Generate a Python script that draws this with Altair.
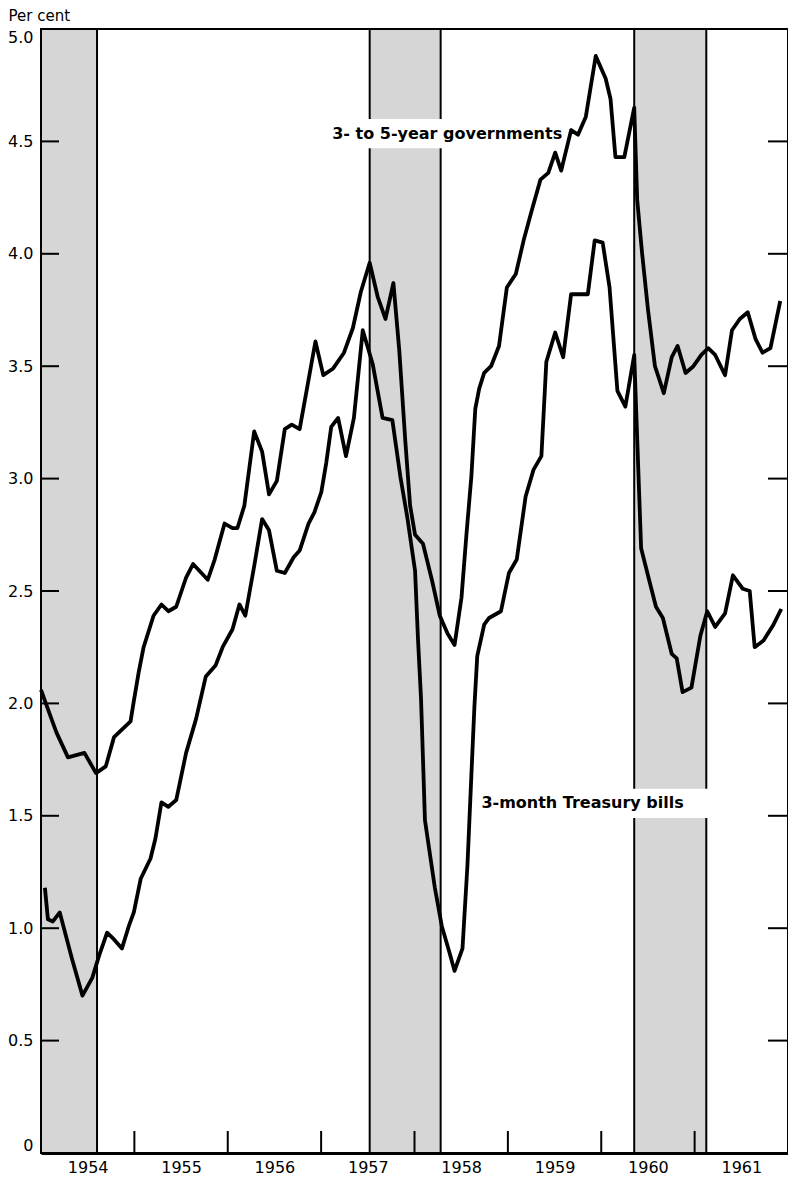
import altair as alt
import pandas as pd

# ---- data (decimal year, per cent) ----
gov_t = [1954.00, 1954.113, 1954.166, 1954.289, 1954.465, 1954.589, 1954.694, 1954.782, 1954.959, 1954.994,
         1955.047, 1955.099, 1955.205, 1955.290, 1955.364, 1955.448, 1955.554, 1955.628, 1955.786, 1955.860,
         1955.966, 1956.051, 1956.104, 1956.178, 1956.283, 1956.368, 1956.442, 1956.526, 1956.611, 1956.685,
         1956.770, 1956.844, 1956.939, 1957.023, 1957.129, 1957.245, 1957.340, 1957.425, 1957.520, 1957.605,
         1957.689, 1957.774, 1957.837, 1957.901, 1957.953, 1958.006, 1958.091, 1958.186, 1958.271, 1958.355,
         1958.429, 1958.503, 1958.556, 1958.609, 1958.651, 1958.693, 1958.746, 1958.820, 1958.905, 1958.989,
         1959.085, 1959.169, 1959.254, 1959.349, 1959.433, 1959.507, 1959.571, 1959.677, 1959.751, 1959.835,
         1959.941, 1960.047, 1960.099, 1960.152, 1960.247, 1960.353, 1960.385, 1960.438, 1960.501, 1960.575,
         1960.670, 1960.755, 1960.818, 1960.903, 1960.987, 1961.072, 1961.146, 1961.220, 1961.326, 1961.400,
         1961.484, 1961.569, 1961.653, 1961.727, 1961.812, 1961.917]
gov_v = [2.06, 1.93, 1.87, 1.76, 1.78, 1.69, 1.72, 1.85, 1.92, 2.01,
         2.14, 2.25, 2.39, 2.44, 2.41, 2.43, 2.56, 2.62, 2.55, 2.64,
         2.80, 2.78, 2.78, 2.88, 3.21, 3.12, 2.93, 2.99, 3.22, 3.24,
         3.22, 3.39, 3.61, 3.46, 3.49, 3.56, 3.67, 3.83, 3.96, 3.81,
         3.71, 3.87, 3.57, 3.17, 2.88, 2.75, 2.71, 2.55, 2.39, 2.31,
         2.26, 2.47, 2.75, 3.01, 3.31, 3.40, 3.47, 3.50, 3.59, 3.85,
         3.91, 4.06, 4.19, 4.33, 4.36, 4.45, 4.37, 4.55, 4.53, 4.61,
         4.88, 4.78, 4.69, 4.43, 4.43, 4.65, 4.24, 4.00, 3.75, 3.50,
         3.38, 3.54, 3.59, 3.47, 3.50, 3.55, 3.58, 3.55, 3.46, 3.66,
         3.71, 3.74, 3.62, 3.56, 3.58, 3.79]

bill_t = [1954.042, 1954.074, 1954.127, 1954.201, 1954.328, 1954.444, 1954.550, 1954.624, 1954.708, 1954.782,
          1954.867, 1954.941, 1954.994, 1955.068, 1955.173, 1955.226, 1955.290, 1955.364, 1955.448, 1955.554,
          1955.660, 1955.765, 1955.871, 1955.945, 1956.051, 1956.125, 1956.188, 1956.283, 1956.368, 1956.442,
          1956.526, 1956.611, 1956.706, 1956.770, 1956.865, 1956.928, 1957.002, 1957.055, 1957.108, 1957.182,
          1957.266, 1957.351, 1957.446, 1957.552, 1957.658, 1957.763, 1957.848, 1957.922, 1958.006, 1958.038,
          1958.070, 1958.112, 1958.218, 1958.292, 1958.376, 1958.429, 1958.514, 1958.567, 1958.609, 1958.641,
          1958.672, 1958.746, 1958.799, 1958.926, 1959.011, 1959.095, 1959.190, 1959.275, 1959.359, 1959.412,
          1959.507, 1959.592, 1959.677, 1959.856, 1959.930, 1960.015, 1960.089, 1960.173, 1960.258, 1960.353,
          1960.427, 1960.512, 1960.586, 1960.660, 1960.755, 1960.808, 1960.871, 1960.966, 1961.061, 1961.135,
          1961.220, 1961.326, 1961.410, 1961.516, 1961.590, 1961.643, 1961.738, 1961.844, 1961.928]
bill_v = [1.18, 1.04, 1.03, 1.07, 0.87, 0.70, 0.78, 0.88, 0.98, 0.95,
          0.91, 1.01, 1.07, 1.22, 1.31, 1.40, 1.56, 1.54, 1.57, 1.78,
          1.93, 2.12, 2.17, 2.25, 2.33, 2.44, 2.39, 2.61, 2.82, 2.77,
          2.59, 2.58, 2.65, 2.68, 2.80, 2.85, 2.94, 3.07, 3.23, 3.27,
          3.10, 3.27, 3.66, 3.51, 3.27, 3.26, 3.01, 2.83, 2.59, 2.28,
          2.02, 1.48, 1.18, 1.01, 0.89, 0.81, 0.91, 1.28, 1.68, 1.98,
          2.21, 2.35, 2.38, 2.41, 2.58, 2.64, 2.92, 3.04, 3.10, 3.52,
          3.65, 3.54, 3.82, 3.82, 4.06, 4.05, 3.85, 3.39, 3.32, 3.55,
          2.69, 2.55, 2.43, 2.38, 2.22, 2.20, 2.05, 2.07, 2.30, 2.41,
          2.34, 2.40, 2.57, 2.51, 2.50, 2.25, 2.28, 2.35, 2.42]

shade_start = [1954.0, 1957.52, 1960.353]
shade_end = [1954.60, 1958.28, 1961.125]

year_labels = [1954, 1955, 1956, 1957, 1958, 1959, 1960, 1961]
year_ticks = [1955, 1956, 1957, 1958, 1959, 1960, 1961]
y_ticks = [0.5, 1.0, 1.5, 2.0, 2.5, 3.0, 3.5, 4.0, 4.5]
y_labels = [0, 0.5, 1.0, 1.5, 2.0, 2.5, 3.0, 3.5, 4.0, 4.5, 5.0]

label_text = ["3- to 5-year governments", "3-month Treasury bills"]
label_t = [1958.35, 1959.80]
label_v = [4.535, 1.555]
box_t0 = [1957.05, 1958.70]
box_t1 = [1959.60, 1961.20]
box_v0 = [4.47, 1.49]
box_v1 = [4.60, 1.62]

# ---- tables ----
lines_df = pd.concat([
    pd.DataFrame({"t": gov_t, "v": gov_v, "series": "gov"}),
    pd.DataFrame({"t": bill_t, "v": bill_v, "series": "bill"}),
])
shade_df = pd.DataFrame({"s": shade_start, "e": shade_end})
xt_df = pd.DataFrame({"t": year_ticks})
yt_df = pd.DataFrame({"v": y_ticks})
lab_df = pd.DataFrame({"text": label_text, "t": label_t, "v": label_v})
box_df = pd.DataFrame({"t0": box_t0, "t1": box_t1, "v0": box_v0, "v1": box_v1})

W, H = 747, 1124
FONT = "DejaVu Sans"
xs = alt.Scale(domain=[1954, 1962], nice=False, zero=False)
ys = alt.Scale(domain=[0, 5], nice=False, zero=False)

x_axis = alt.Axis(
    values=[y + 0.5 for y in year_labels], labelExpr="'' + floor(datum.value)",
    ticks=False, domain=True, domainColor="black", domainWidth=3, grid=False, title=None,
    labelFont=FONT, labelFontSize=16, labelColor="black", labelPadding=6,
    labelFlush=False, labelOverlap=False,
)
y_axis = alt.Axis(
    values=y_labels, labelExpr="datum.value == 0 ? '0' : format(datum.value, '.1f')",
    ticks=False, domain=False, grid=False,
    labelFont=FONT, labelFontSize=16, labelColor="black", labelPadding=8,
    labelFlush=True, labelOverlap=False,
    title="Per cent", titleAngle=0, titleAlign="left", titleBaseline="alphabetic",
    titleX=-33, titleY=-9, titleFont=FONT, titleFontSize=15, titleFontWeight="normal",
    titleColor="black",
)

shades = alt.Chart(shade_df).mark_rect(fill="#d6d6d6", stroke="black", strokeWidth=2).encode(
    x=alt.X("s:Q", scale=xs, axis=x_axis), x2="e:Q",
    y=alt.value(0), y2=alt.value(H),
)

boxes = alt.Chart(box_df).mark_rect(fill="white").encode(
    x=alt.X("t0:Q", scale=xs, axis=x_axis), x2="t1:Q",
    y=alt.Y("v0:Q", scale=ys, axis=y_axis), y2="v1:Q",
)

xticks = alt.Chart(xt_df).mark_rule(color="black", strokeWidth=2).encode(
    x=alt.X("t:Q", scale=xs, axis=x_axis), y=alt.value(H), y2=alt.value(H - 22),
)
yticks_l = alt.Chart(yt_df).mark_rule(color="black", strokeWidth=2).encode(
    y=alt.Y("v:Q", scale=ys, axis=y_axis), x=alt.value(0), x2=alt.value(18),
)
yticks_r = alt.Chart(yt_df).mark_rule(color="black", strokeWidth=2).encode(
    y=alt.Y("v:Q", scale=ys, axis=y_axis), x=alt.value(W - 20), x2=alt.value(W),
)

lines = alt.Chart(lines_df).mark_line(color="black", strokeWidth=3.8, strokeJoin="round").encode(
    x=alt.X("t:Q", scale=xs, axis=x_axis),
    y=alt.Y("v:Q", scale=ys, axis=y_axis),
    detail="series:N",
)

texts = alt.Chart(lab_df).mark_text(font=FONT, fontSize=16, fontWeight="bold", color="black").encode(
    x=alt.X("t:Q", scale=xs, axis=x_axis),
    y=alt.Y("v:Q", scale=ys, axis=y_axis),
    text="text:N",
)

chart = alt.layer(shades, boxes, xticks, yticks_l, yticks_r, lines, texts).properties(
    width=W, height=H,
    autosize=alt.AutoSizeParams(type="none"),
    padding={"left": 33, "top": 21, "right": 0, "bottom": 23},
).configure_view(stroke="black", strokeWidth=2)

chart.save("out.html", embed_options={"renderer": "svg", "actions": False})
